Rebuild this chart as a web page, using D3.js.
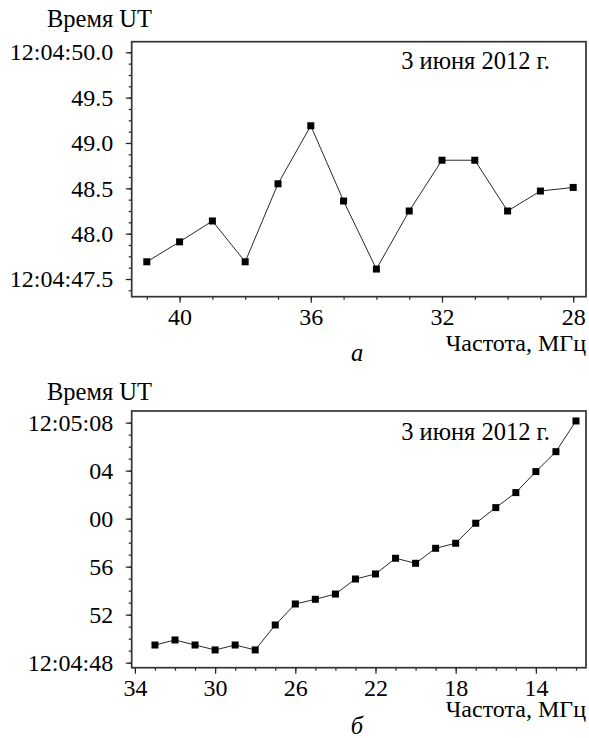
<!DOCTYPE html>
<html>
<head>
<meta charset="utf-8">
<script src="https://cdn.jsdelivr.net/npm/d3@7"></script>
</head>
<body style="margin:0;background:#fff">
<svg id="chart" width="589" height="738"></svg>
<script>
// ---- Data (panel а) ----
const freqA = [41, 40, 39, 38, 37, 36, 35, 34, 33, 32, 31, 30, 29, 28];          // MHz
const timeA = [47.69, 47.91, 48.14, 47.69, 48.55, 49.19, 48.36, 47.61, 48.25, 48.81, 48.81, 48.25, 48.47, 48.51]; // s after 12:04:00
const yTicksA = [47.5, 48.0, 48.5, 49.0, 49.5, 50.0];
const yTickLabelsA = ["12:04:47.5", "48.0", "48.5", "49.0", "49.5", "12:04:50.0"];
const xTicksA = [40, 36, 32, 28];

// ---- Data (panel б) ----
const freqB = [33, 32, 31, 30, 29, 28, 27, 26, 25, 24, 23, 22, 21, 20, 19, 18, 17, 16, 15, 14, 13, 12];
const timeB = [49.47, 49.89, 49.47, 49.06, 49.47, 49.06, 51.14, 52.89, 53.28, 53.72, 54.97, 55.39, 56.70, 56.28, 57.53, 57.95, 59.62, 60.92, 62.17, 63.92, 65.58, 68.14]; // s after 12:04:00
const yTicksB = [48, 52, 56, 60, 64, 68];
const yTickLabelsB = ["12:04:48", "52", "56", "00", "04", "12:05:08"];
const xTicksB = [34, 30, 26, 22, 18, 14];

const yTitle = "Время UT";
const xTitle = "Частота, МГц";
const dateLabel = "3 июня 2012 г.";

const FONT = '"Liberation Serif", Tinos, "Times New Roman", serif';
const svg = d3.select("#chart");

function panel(cfg) {
  const { left, right, top, bottom, xDomain, yDomain, freq, time,
          yTicks, yLabels, xTicks, xMinorStep, yMinorStep, letter } = cfg;
  const x = d3.scaleLinear().domain(xDomain).range([left, right]);
  const y = d3.scaleLinear().domain(yDomain).range([bottom, top]);
  const g = svg.append("g");

  const xMinor = d3.range(Math.ceil(Math.min(...xDomain)), Math.floor(Math.max(...xDomain)) + 0.001, xMinorStep);
  const yMinor = [];
  for (let v = yTicks[0] - yMinorStep * 10; v <= yDomain[1] + 1e-9; v += yMinorStep) {
    if (v >= yDomain[0] - 1e-9) yMinor.push(+v.toFixed(4));
  }
  const yAxisMinor = d3.axisLeft(y).tickValues(yMinor).tickSize(3).tickSizeOuter(0).tickFormat("");
  const xAxisMinor = d3.axisBottom(x).tickValues(xMinor).tickSize(3).tickSizeOuter(0).tickFormat("");
  g.append("g").attr("transform", `translate(${left},0)`).call(yAxisMinor);
  g.append("g").attr("transform", `translate(0,${bottom})`).call(xAxisMinor);

  const yAxis = d3.axisLeft(y).tickValues(yTicks).tickSize(6).tickSizeOuter(0).tickPadding(12.5)
    .tickFormat((d, i) => yLabels[i]);
  const xAxis = d3.axisBottom(x).tickValues(xTicks).tickSize(6).tickSizeOuter(0).tickPadding(5.5)
    .tickFormat(d3.format("d"));
  g.append("g").attr("transform", `translate(${left},0)`).call(yAxis);
  g.append("g").attr("transform", `translate(0,${bottom})`).call(xAxis);

  g.selectAll(".domain").remove();
  g.selectAll(".tick line").attr("stroke", "#222").attr("stroke-width", 1.2);
  g.selectAll(".tick text").style("font-family", FONT).style("font-size", "24px").attr("fill", "#000");

  g.append("rect").attr("x", left).attr("y", top).attr("width", right - left).attr("height", bottom - top)
    .attr("fill", "none").attr("stroke", "#333").attr("stroke-width", 1.7);

  const pts = freq.map((f, i) => [f, time[i]]);
  g.append("path").datum(pts)
    .attr("d", d3.line().x(d => x(d[0])).y(d => y(d[1])))
    .attr("fill", "none").attr("stroke", "#111").attr("stroke-width", 0.9);

  const s = 7;
  g.selectAll("rect.m").data(pts).join("rect").attr("class", "m")
    .attr("x", d => x(d[0]) - s / 2).attr("y", d => y(d[1]) - s / 2)
    .attr("width", s).attr("height", s).attr("fill", "#000");

  const txt = (xx, yy, anchor, t, italic, fs) => g.append("text").attr("x", xx).attr("y", yy)
    .attr("text-anchor", anchor).style("font-family", FONT).style("font-size", (fs || 24.5) + "px")
    .style("font-style", italic ? "italic" : "normal").attr("fill", "#000").text(t);
  txt(47, top - cfg.titleUp, "start", yTitle);
  txt(550, top + cfg.dateDy, "end", dateLabel);
  txt(586, bottom + cfg.xTitleDy, "end", xTitle, false, 24);
  txt(357, bottom + cfg.letterDy, "middle", letter, true);
}

panel({
  left: 131.7, right: 586, top: 41.7, bottom: 296.7,
  xDomain: [41.46, 27.61], yDomain: [47.305, 50.117],
  freq: freqA, time: timeA, yTicks: yTicksA, yLabels: yTickLabelsA, xTicks: xTicksA,
  xMinorStep: 1, yMinorStep: 0.125, letter: "а",
  titleUp: 15, dateDy: 27.5, xTitleDy: 54, letterDy: 64
});

panel({
  left: 131.7, right: 586, top: 411, bottom: 667.7,
  xDomain: [34.16, 11.5], yDomain: [47.58, 68.97],
  freq: freqB, time: timeB, yTicks: yTicksB, yLabels: yTickLabelsB, xTicks: xTicksB,
  xMinorStep: 1, yMinorStep: 1, letter: "б",
  titleUp: 11, dateDy: 29, xTitleDy: 49, letterDy: 66
});
</script>
</body>
</html>
